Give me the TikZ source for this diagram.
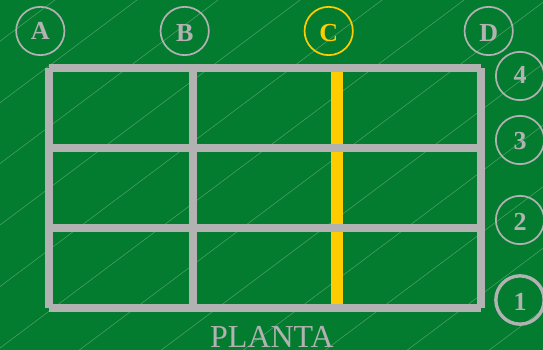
\documentclass[tikz,border=0pt]{standalone}
\usepackage{fontspec}
\setmainfont{Liberation Serif}
\usetikzlibrary{positioning}
\definecolor{plantgreen}{HTML}{047C30}
\definecolor{plantgray}{HTML}{B2B2B2}
\definecolor{plantyellow}{HTML}{FFCC00}
\definecolor{plantstripe}{HTML}{5FAA78}

\begin{document}
\begin{tikzpicture}[
    x=1pt, y=-1pt,
    on grid,
    axis_node/.style={circle, draw=plantgray, text=plantgray, line width=1.7pt, outer sep=0pt, inner sep=0pt, text depth=0pt, minimum size=48.3pt, font=\fontsize{26}{26}\selectfont\bfseries},
    active_node/.style={axis_node, draw=plantyellow, text=plantyellow},
    main_node/.style={axis_node, line width=3.4pt},
    title_node/.style={text=plantgray, inner sep=0pt, text depth=0pt, font=\fontsize{32}{32}\selectfont},
    beam/.style={draw=plantgray, line width=8pt},
    active_beam/.style={draw=plantyellow, line width=12pt},
    stripe/.style={draw=plantstripe, line width=0.4pt}
]

% Background
\fill[plantgreen] (0,0) rectangle (543,350);
\useasboundingbox (0,0) rectangle (543,350);
\begin{scope}
\clip (0,0) rectangle (543,350);
\foreach \xstart in {55,137,218,300,382,464,546,628,710,792,874,956}
    \draw[stripe] (\xstart,0) -- ({\xstart-470},{470*0.75});
\end{scope}

% Grid corners
\coordinate (tl) at (48.7,68);
\coordinate (tr) at (480.7,68);
\coordinate (bl) at (48.7,308);
\coordinate (br) at (480.7,308);
\coordinate (ml3) at (48.7,148);
\coordinate (mr3) at (480.7,148);
\coordinate (ml2) at (48.7,228);
\coordinate (mr2) at (480.7,228);
\coordinate (tb) at (192.7,68);
\coordinate (bb) at (192.7,308);
\coordinate (tc) at (336.7,68);
\coordinate (bc) at (336.7,308);

% Columns
\node[axis_node, text height=16.6pt] at (40.3,31) (a) {A};
\node[axis_node, text height=21.2pt, right=144.4pt of a] (b) {B};
\node[active_node, text height=21.2pt, right=144pt of b] (c) {C};
\node[axis_node, text height=21.2pt, right=160pt of c] (d) {D};

% Rows
\node[axis_node, text height=15.6pt] at (520,76) (r4) {4};
\node[axis_node, text height=19.6pt, below=64pt of r4] (r3) {3};
\node[axis_node, text height=21.6pt, below=80pt of r3] (r2) {2};
\node[main_node, text height=21pt, below=80pt of r2] (r1) {1};

% Beams
\draw[active_beam] (tc) -- (bc);
\draw[beam] (tl) -- (bl);
\draw[beam] (tb) -- (bb);
\draw[beam] (tr) -- (br);
\draw[beam] (tl) -- (tr);
\draw[beam] (ml3) -- (mr3);
\draw[beam] (ml2) -- (mr2);
\draw[beam] (bl) -- (br);

\node[title_node, anchor=base] at (272,347.7) (planta) {PLANTA};

\end{tikzpicture}
\end{document}
